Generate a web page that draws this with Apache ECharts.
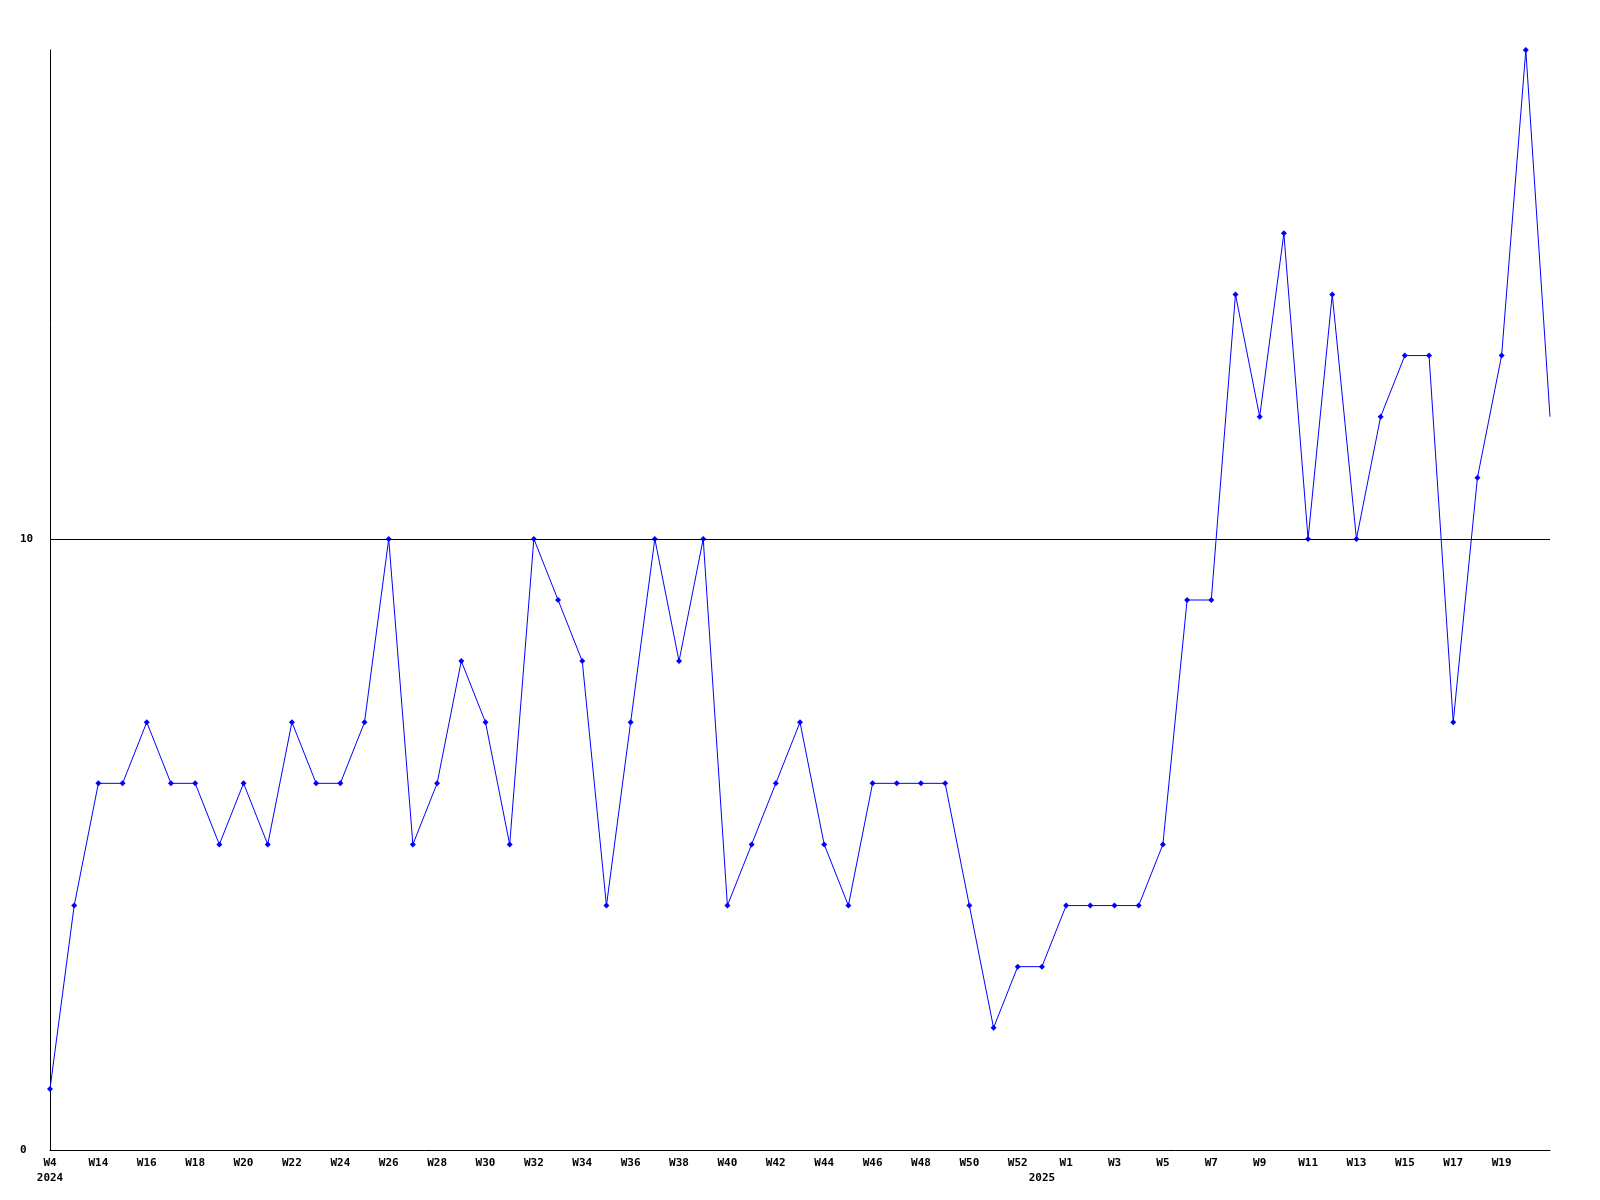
<!DOCTYPE html>
<html>
<head>
<meta charset="utf-8">
<script src="https://cdn.jsdelivr.net/npm/echarts@6/dist/echarts.min.js"></script>
<style>html,body{margin:0;padding:0;background:#fff}#c{width:1600px;height:1200px}</style>
</head>
<body>
<div id="c"></div>
<script>
const weeks = ["W4","W13","W14","W15","W16","W17","W18","W19","W20","W21","W22","W23","W24","W25","W26","W27","W28","W29","W30","W31","W32","W33","W34","W35","W36","W37","W38","W39","W40","W41","W42","W43","W44","W45","W46","W47","W48","W49","W50","W51","W52","W53","W1","W2","W3","W4","W5","W6","W7","W8","W9","W10","W11","W12","W13","W14","W15","W16","W17","W18","W19","W20","W21"];
const yearLabels = {0: "2024", 41: "2025"};
const values = [1,4,6,6,7,6,6,5,6,5,7,6,6,7,10,5,6,8,7,5,10,9,8,4,7,10,8,10,4,5,6,7,5,4,6,6,6,6,4,2,3,3,4,4,4,4,5,9,9,14,12,15,10,14,10,12,13,13,7,11,13,18,12];
const refLine = 10;

const chart = echarts.init(document.getElementById('c'), null, {renderer: 'canvas'});
const font = '"DejaVu Sans Mono", "Liberation Mono", monospace';
const lastIdx = values.length - 1;
chart.setOption({
  animation: false,
  backgroundColor: '#ffffff',
  grid: {left: 50, right: 50, top: 50, bottom: 50},
  xAxis: {
    type: 'category',
    data: weeks,
    boundaryGap: false,
    axisLine: {show: true, lineStyle: {color: '#000', width: 1}},
    axisTick: {show: false},
    splitLine: {show: false},
    axisLabel: {
      interval: function (i) { return (i % 2 === 0 && i !== lastIdx) || yearLabels[i] !== undefined; },
      formatter: function (v, i) {
        const w = (i % 2 === 0) ? v : '';
        const y = yearLabels[i] !== undefined ? yearLabels[i] : '';
        return y ? (w + '\n' + y) : w;
      },
      margin: 6,
      color: '#000',
      fontFamily: font,
      fontWeight: 'bold',
      fontSize: 11,
      lineHeight: 15,
      verticalAlign: 'top'
    }
  },
  yAxis: {
    type: 'value',
    min: 0,
    max: 18,
    interval: 10,
    axisLine: {show: true, lineStyle: {color: '#000', width: 1}},
    axisTick: {show: false},
    splitLine: {show: false},
    axisLabel: {
      showMaxLabel: false,
      formatter: function (v) { return v % 10 === 0 ? String(v) : ''; },
      align: 'left',
      margin: 30,
      color: '#000',
      fontFamily: font,
      fontWeight: 'bold',
      fontSize: 11
    }
  },
  series: [{
    type: 'line',
    data: values,
    symbol: function (v, p) { return p.dataIndex === lastIdx ? 'none' : 'diamond'; },
    symbolSize: 6,
    showAllSymbol: true,
    itemStyle: {color: '#0000ff'},
    lineStyle: {color: '#0000ff', width: 1},
    markLine: {
      silent: true,
      symbol: 'none',
      label: {show: false},
      lineStyle: {color: '#000', width: 1, type: 'solid'},
      data: [{yAxis: refLine}]
    }
  }]
});
</script>
</body>
</html>
